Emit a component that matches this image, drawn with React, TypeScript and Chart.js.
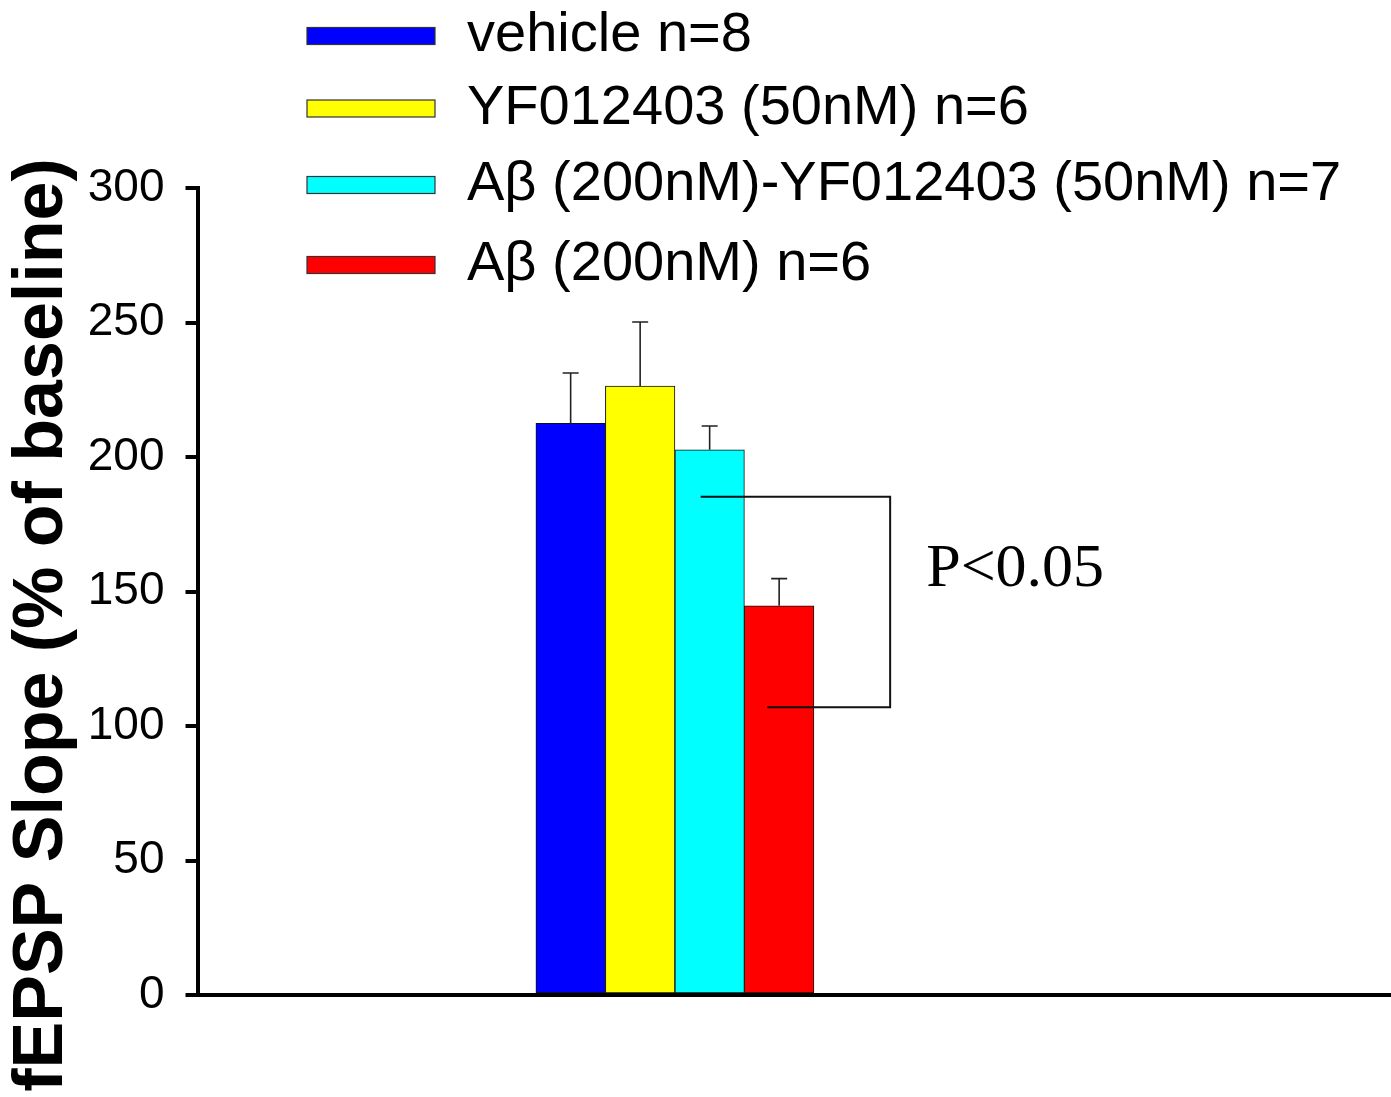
import React, { useEffect, useRef } from "react";
import { Chart, registerables } from "chart.js";

Chart.register(...registerables);

// ---------- data ----------
const SERIES_LABELS = [
  "vehicle n=8",
  "YF012403 (50nM) n=6",
  "Aβ (200nM)-YF012403 (50nM) n=7",
  "Aβ (200nM) n=6",
];
const MEANS = [212.5, 226.4, 202.7, 144.7];
const SEM = [18.7, 23.8, 8.8, 10.1];
const COLORS = ["#0000FF", "#FFFF00", "#00FFFF", "#FF0000"];
const GROUP_X = 0;
const Y_MIN = 0;
const Y_MAX = 300;
const Y_STEP = 50;
const Y_TITLE = "fEPSP Slope (% of baseline)";
// significance bracket between series 2 and 3 (indices)
const BRACKET_PAIR = [2, 3];
const BRACKET_LEVELS = [185.2, 107]; // y values of the two horizontal arms
const P_LABEL = "P<0.05";

// ---------- styles ----------
const W = 1391;
const H = 1097;
const SANS = '"Liberation Sans", Arial, sans-serif';
const SERIF = '"Liberation Serif", "Times New Roman", serif';
const LEGEND_ROW_CENTERS = [36, 108.5, 185, 265];

const overlayPlugin = {
  id: "overlay",
  afterDatasetsDraw(chart: any) {
    const ctx = chart.ctx;
    const y = chart.scales.y;
    // error bars
    ctx.save();
    ctx.strokeStyle = "#222";
    ctx.lineWidth = 1.6;
    chart.data.datasets.forEach((ds: any, i: number) => {
      const el = chart.getDatasetMeta(i).data[0];
      if (!el) return;
      const x = el.x;
      const top = y.getPixelForValue(MEANS[i]);
      const errTop = y.getPixelForValue(MEANS[i] + SEM[i]);
      ctx.beginPath();
      ctx.moveTo(x, top);
      ctx.lineTo(x, errTop);
      ctx.moveTo(x - 8, errTop);
      ctx.lineTo(x + 8, errTop);
      ctx.stroke();
    });
    ctx.restore();

    // bracket
    const a = chart.getDatasetMeta(BRACKET_PAIR[0]).data[0];
    const b = chart.getDatasetMeta(BRACKET_PAIR[1]).data[0];
    if (a && b) {
      const yTop = y.getPixelForValue(BRACKET_LEVELS[0]);
      const yBot = y.getPixelForValue(BRACKET_LEVELS[1]);
      const xr = b.x + 111;
      ctx.save();
      ctx.strokeStyle = "#111";
      ctx.lineWidth = 2;
      ctx.beginPath();
      ctx.moveTo(a.x - 9, yTop);
      ctx.lineTo(xr, yTop);
      ctx.lineTo(xr, yBot);
      ctx.lineTo(b.x - 12, yBot);
      ctx.stroke();
      ctx.fillStyle = "#000";
      ctx.font = `62px ${SERIF}`;
      ctx.textAlign = "left";
      ctx.textBaseline = "alphabetic";
      ctx.fillText(P_LABEL, xr + 36, (yTop + yBot) / 2 - 16);
      ctx.restore();
    }
  },
  afterDraw(chart: any) {
    const ctx = chart.ctx;
    // legend
    ctx.save();
    chart.data.datasets.forEach((ds: any, i: number) => {
      const yc = LEGEND_ROW_CENTERS[i];
      ctx.fillStyle = ds.backgroundColor;
      ctx.fillRect(307, yc - 8.5, 128, 17);
      ctx.strokeStyle = "#333";
      ctx.lineWidth = 1.2;
      ctx.strokeRect(307, yc - 8.5, 128, 17);
      ctx.fillStyle = "#000";
      ctx.font = `56px ${SANS}`;
      ctx.textAlign = "left";
      ctx.textBaseline = "alphabetic";
      ctx.fillText(ds.label, 467, yc + 15);
    });
    ctx.restore();

    // y axis title
    ctx.save();
    ctx.translate(62, 625);
    ctx.rotate(-Math.PI / 2);
    ctx.fillStyle = "#000";
    ctx.font = `bold 70px ${SANS}`;
    ctx.textAlign = "center";
    ctx.textBaseline = "alphabetic";
    ctx.fillText(Y_TITLE, 0, 0);
    ctx.restore();
  },
};

export default function App() {
  const ref = useRef<HTMLCanvasElement | null>(null);

  useEffect(() => {
    document.body.style.margin = "0";
    document.body.style.overflow = "hidden";
    const canvas = ref.current;
    if (!canvas) return;
    const chart = new Chart(canvas, {
      type: "bar",
      data: {
        datasets: SERIES_LABELS.map((label, i) => ({
          label,
          data: [{ x: GROUP_X, y: MEANS[i] }],
          backgroundColor: COLORS[i],
          borderColor: "#111",
          borderWidth: 1,
          borderSkipped: false,
          barThickness: 69.5,
        })),
      },
      options: {
        animation: false,
        responsive: false,
        devicePixelRatio: 1,
        events: [],
        layout: { padding: { left: 0, top: 188, right: 0, bottom: 102 } },
        plugins: {
          legend: { display: false },
          tooltip: { enabled: false },
          title: { display: false },
        },
        scales: {
          x: {
            type: "linear",
            min: -2,
            max: 3,
            offset: false,
            z: 1,
            ticks: { display: false },
            grid: { display: true, offset: false, drawOnChartArea: false, drawTicks: false, color: "#000", lineWidth: 0 },
            border: { display: true, color: "#000", width: 4 },
            afterFit: (scale: any) => {
              scale.height = 0;
            },
          },
          y: {
            type: "linear",
            min: Y_MIN,
            max: Y_MAX,
            z: 1,
            ticks: {
              stepSize: Y_STEP,
              color: "#000",
              padding: 21,
              font: { family: SANS, size: 46 },
            },
            grid: {
              drawOnChartArea: false,
              drawTicks: true,
              tickLength: 12,
              tickWidth: 4,
              tickColor: "#000",
              color: "#000",
              lineWidth: 4,
            },
            border: { display: true, color: "#000", width: 4 },
            afterFit: (scale: any) => {
              scale.width = 197.5;
            },
          },
        },
      },
      plugins: [overlayPlugin],
    } as any);
    return () => chart.destroy();
  }, []);

  return (
    <div style={{ position: "absolute", left: 0, top: 0, width: W, height: H, background: "#fff" }}>
      <canvas ref={ref} width={W} height={H} style={{ width: W, height: H, display: "block" }} />
    </div>
  );
}
